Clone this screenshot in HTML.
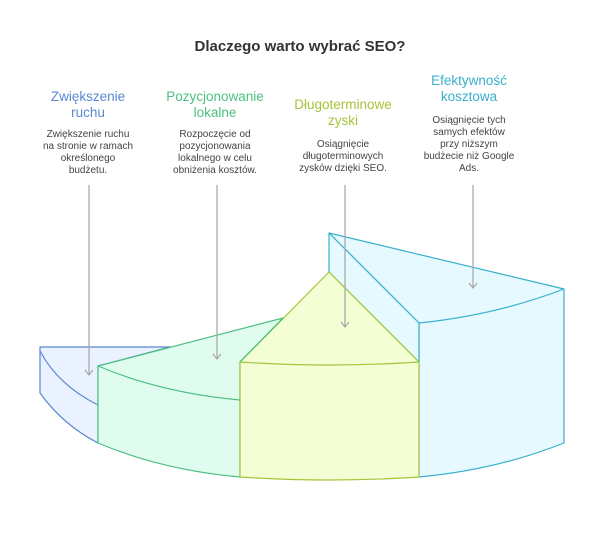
<!DOCTYPE html>
<html><head><meta charset="utf-8"><style>
body{margin:0;background:#fff;}
svg text{font-family:"Liberation Sans",sans-serif;}
</style></head><body>
<svg width="600" height="529" viewBox="0 0 600 529" xmlns="http://www.w3.org/2000/svg">
<rect width="600" height="529" fill="#fff"/>
<text x="300" y="51" text-anchor="middle" font-size="15" font-weight="bold" fill="#333">Dlaczego warto wybrać SEO?</text>
<g font-size="13.5" text-anchor="middle">
<text x="88" y="101" fill="#5b87d0">Zwiększenie</text><text x="88" y="117" fill="#5b87d0">ruchu</text>
<text x="215" y="101" fill="#4cc080">Pozycjonowanie</text><text x="215" y="117" fill="#4cc080">lokalne</text>
<text x="343" y="109" fill="#a6c43a">Długoterminowe</text><text x="343" y="125" fill="#a6c43a">zyski</text>
<text x="469" y="85" fill="#38b0cc">Efektywność</text><text x="469" y="101" fill="#38b0cc">kosztowa</text>
</g>
<g font-size="10" text-anchor="middle" fill="#444">
<text x="88" y="137">Zwiększenie ruchu</text><text x="88" y="149">na stronie w ramach</text><text x="88" y="161">określonego</text><text x="88" y="173">budżetu.</text>
<text x="215" y="137">Rozpoczęcie od</text><text x="215" y="149">pozycjonowania</text><text x="215" y="161">lokalnego w celu</text><text x="215" y="173">obniżenia kosztów.</text>
<text x="343" y="147">Osiągnięcie</text><text x="343" y="159">długoterminowych</text><text x="343" y="171">zysków dzięki SEO.</text>
<text x="469" y="123">Osiągnięcie tych</text><text x="469" y="135">samych efektów</text><text x="469" y="147">przy niższym</text><text x="469" y="159">budżecie niż Google</text><text x="469" y="171">Ads.</text>
</g>
<g stroke-width="1.2" stroke-linejoin="round">
<path d="M40,347 L170,347 L98,366 L98,443 Q63,425 40,393 Z" fill="#ebf2ff" stroke="#5b87d0"/>
<path d="M40,351 Q58,385 98,405" fill="none" stroke="#5b87d0"/>
<path d="M98,366 L283,318 L240,362 L240,477 Q162,470 98,443 Z" fill="#e0fcef" stroke="#4cc080"/>
<path d="M98,366 Q162,393 240,400" fill="none" stroke="#4cc080"/>
<path d="M329,233 L564,289 L564,443 Q496,470 419,477 L419,323 Z" fill="#e6f9ff" stroke="#38b0cc"/>
<path d="M329,233 L329,272 L419,362 L419,323 Z" fill="#e6f9ff" stroke="#38b0cc"/>
<path d="M419,323 Q496,315 564,289" fill="none" stroke="#38b0cc"/>
<path d="M329,272 L419,362 L419,477 Q329,483 240,477 L240,362 Z" fill="#f3fed5" stroke="#a6c43a"/>
<path d="M240,362 Q329,368 419,362" fill="none" stroke="#a6c43a"/>
<path d="M240,362 L283,318" stroke="#4cc080"/>
</g>
<g stroke="#aaa" stroke-width="1.3" fill="none">
<path d="M89,185 V375 M85,370 L89,375 L93,370"/>
<path d="M217,185 V359 M213,354 L217,359 L221,354"/>
<path d="M345,185 V327 M341,322 L345,327 L349,322"/>
<path d="M473,185 V288 M469,283 L473,288 L477,283"/>
</g>
</svg>
</body></html>
